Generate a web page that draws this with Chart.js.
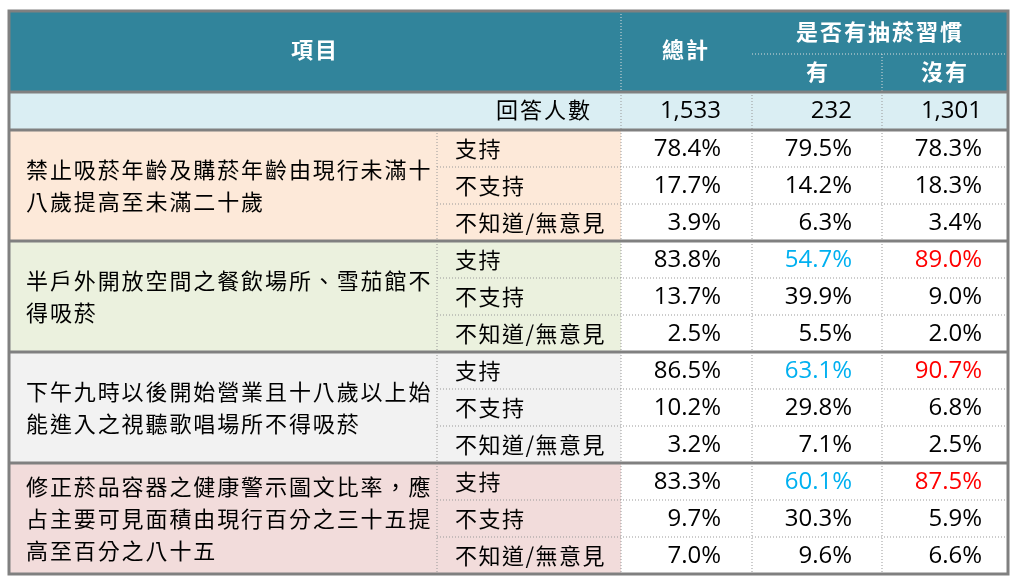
<!DOCTYPE html>
<html><head><meta charset="utf-8">
<script src="https://cdn.jsdelivr.net/npm/chart.js@4/dist/chart.umd.min.js"></script>
<style>html,body{margin:0;padding:0;background:#fff}#wrap{width:1019px;height:585px}</style>
</head><body><div id="wrap"><canvas id="tabla"></canvas></div>
<script>
// Datos de la tabla
const items = [
  '禁止吸菸年齡及購菸年齡由現行未滿十八歲提高至未滿二十歲',
  '半戶外開放空間之餐飲場所、雪茄館不得吸菸',
  '下午九時以後開始營業且十八歲以上始能進入之視聽歌唱場所不得吸菸',
  '修正菸品容器之健康警示圖文比率，應占主要可見面積由現行百分之三十五提高至百分之八十五'
];
const opciones = ['支持', '不支持', '不知道/無意見'];
const respuestas = ['1,533', '232', '1,301'];
const totales = [78.4, 17.7, 3.9, 83.8, 13.7, 2.5, 86.5, 10.2, 3.2, 83.3, 9.7, 7.0];
const fumadores = [79.5, 14.2, 6.3, 54.7, 39.9, 5.5, 63.1, 29.8, 7.1, 60.1, 30.3, 9.6];
const noFumadores = [78.3, 18.3, 3.4, 89.0, 9.0, 2.0, 90.7, 6.8, 2.5, 87.5, 5.9, 6.6];
const resaltar = [false, true, true, true]; // fila "支持" destacada por grupo

const fondos = ['#FDE9D9', '#EBF1DE', '#F2F2F2', '#F2DCDB'];
const colX = [9, 437, 621, 752, 882, 1008];
const filaY0 = 130, altoFila = 37;
const CJK = '"Noto Sans CJK TC", sans-serif';
const NUM = '"Open Sans", "Noto Sans", sans-serif';

const tablaPlugin = {
  id: 'tabla',
  afterDraw(chart) {
    const ctx = chart.ctx, sx = chart.scales.x, sy = chart.scales.y;
    const X = v => sx.getPixelForValue(v), Y = v => sy.getPixelForValue(v);
    const rect = (x0, y0, x1, y1, c) => { ctx.fillStyle = c; ctx.fillRect(X(x0), Y(y0), X(x1) - X(x0), Y(y1) - Y(y0)); };
    const linea = (x0, y0, x1, y1, c, w, dash) => {
      ctx.save(); ctx.strokeStyle = c; ctx.lineWidth = w; ctx.setLineDash(dash || []);
      ctx.beginPath(); ctx.moveTo(X(x0), Y(y0)); ctx.lineTo(X(x1), Y(y1)); ctx.stroke(); ctx.restore();
    };
    const texto = (t, x, y, font, color, align, esp) => {
      ctx.save();
      ctx.font = font; ctx.fillStyle = color; ctx.textAlign = align; ctx.textBaseline = 'middle';
      ctx.letterSpacing = esp || '0px';
      ctx.fillText(t, X(x), Y(y));
      ctx.restore();
    };
    const fin = colX[5], finY = filaY0 + altoFila * 12;
    const fCJK = '22px ' + CJK, fNUM = '24px ' + NUM;

    // Encabezado
    rect(colX[0], 11, fin, 92, '#31849B');
    texto('項目', 315, 50, 'bold 22px ' + CJK, '#fff', 'center', '2px');
    texto('總計', 686, 50, 'bold 22px ' + CJK, '#fff', 'center', '2px');
    texto('是否有抽菸習慣', 880, 32, 'bold 22px ' + CJK, '#fff', 'center', '2px');
    texto('有', 817, 72, 'bold 22px ' + CJK, '#fff', 'center');
    texto('沒有', 945, 72, 'bold 22px ' + CJK, '#fff', 'center', '2px');
    linea(colX[3], 54, fin, 54, '#ddd', 1, [1, 2]);
    linea(colX[2], 11, colX[2], 92, '#ddd', 1, [1, 2]);
    linea(colX[4], 54, colX[4], 92, '#ddd', 1, [1, 2]);

    // Fila de respuestas
    rect(colX[0], 92, fin, filaY0, '#DAEEF3');
    texto('回答人數', 592, 110, fCJK, '#000', 'right', '2px');
    const der = [721, 852, 982];
    respuestas.forEach((r, i) => texto(r, der[i], 111, fNUM, '#000', 'right'));

    // Grupos
    items.forEach((it, g) => {
      const gy = filaY0 + g * 3 * altoFila;
      rect(colX[0], gy, colX[2], gy + 3 * altoFila, fondos[g]);
      rect(colX[2], gy, fin, gy + 3 * altoFila, '#fff');
      const lineas = [];
      for (let p = 0; p < it.length; p += 17) lineas.push(it.slice(p, p + 17));
      const lh = 32, cy = gy + 1.5 * altoFila - (lineas.length - 1) * lh / 2;
      lineas.forEach((l, k) => texto(l, 26, cy + k * lh, fCJK, '#000', 'left', '1.9px'));
      opciones.forEach((op, k) => {
        const i = g * 3 + k, ry = gy + k * altoFila + altoFila / 2;
        texto(op, 455, ry, fCJK, '#000', 'left', '1.5px');
        const dest = resaltar[g] && k === 0;
        texto(totales[i].toFixed(1) + '%', der[0], ry + 1, fNUM, '#000', 'right');
        texto(fumadores[i].toFixed(1) + '%', der[1], ry + 1, fNUM, dest ? '#00B0F0' : '#000', 'right');
        texto(noFumadores[i].toFixed(1) + '%', der[2], ry + 1, fNUM, dest ? '#FF0000' : '#000', 'right');
        if (k > 0) linea(colX[1], gy + k * altoFila, fin, gy + k * altoFila, '#999', 1, [1, 2]);
      });
    });

    // Líneas verticales punteadas
    [colX[1], colX[2], colX[3], colX[4]].forEach(x => linea(x, filaY0, x, finY, '#999', 1, [1, 2]));
    linea(colX[2], 92, colX[2], filaY0, '#999', 1, [1, 2]);
    linea(colX[3], 92, colX[3], filaY0, '#999', 1, [1, 2]);
    linea(colX[4], 92, colX[4], filaY0, '#999', 1, [1, 2]);

    // Bordes gruesos
    [92, filaY0, filaY0 + 111, filaY0 + 222, filaY0 + 333].forEach(y => linea(colX[0], y, fin, y, '#808080', 3));
    ctx.save(); ctx.strokeStyle = '#808080'; ctx.lineWidth = 3;
    ctx.strokeRect(X(colX[0]), Y(11), X(fin) - X(colX[0]), Y(finY) - Y(11)); ctx.restore();
  }
};

new Chart(document.getElementById('tabla'), {
  type: 'scatter',
  data: { datasets: [{ data: [] }] },
  options: {
    responsive: true, maintainAspectRatio: false, animation: false,
    layout: { padding: 0 },
    plugins: { legend: { display: false }, tooltip: { enabled: false } },
    scales: {
      x: { type: 'linear', min: 0, max: 1019, display: false },
      y: { type: 'linear', min: 0, max: 585, reverse: true, display: false }
    }
  },
  plugins: [tablaPlugin]
});
</script></body></html>
